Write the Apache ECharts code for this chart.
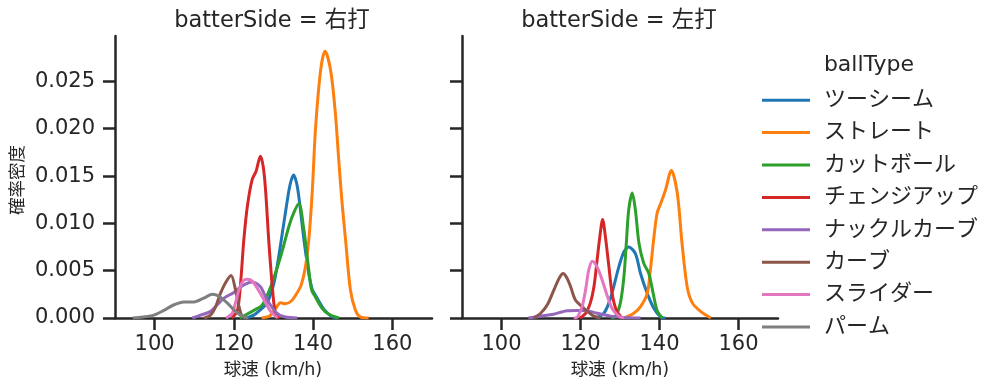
<!DOCTYPE html>
<html>
<head>
<meta charset="utf-8">
<script src="https://cdn.jsdelivr.net/npm/echarts@6/dist/echarts.min.js"></script>
<style>
html,body{margin:0;padding:0;background:#fff;}
#chart{width:1002px;height:391px;}
</style>
</head>
<body>
<div id="chart"></div>
<script>
// ---- Data ----
const ballTypes = ['ツーシーム','ストレート','カットボール','チェンジアップ','ナックルカーブ','カーブ','スライダー','パーム'];
const panelTitles = ['batterSide = 右打','batterSide = 左打'];
const xTicks = [100,120,140,160];
const yTicks = [0,0.005,0.010,0.015,0.020,0.025];

// 右打 panel
const R_twoSeam_x = [123,125,126.5,128.4,130,130.9,132.6,133.9,134.5,135.1,135.8,136.4,137.7,138.9,139.8,140.6,142.6,144.5,146];
const R_twoSeam_y = [0,0.0003,0.0008,0.0016,0.0035,0.0054,0.0100,0.0135,0.0146,0.0151,0.0143,0.0128,0.0082,0.0047,0.0030,0.0024,0.0010,0.0002,0];
const R_straight_x = [127,129,130.5,131.8,133,134.5,136,137,138.1,138.9,139.8,140.6,141.9,143,144.4,145.6,146.5,147.3,148.2,149.4,150.7,152,154];
const R_straight_y = [0,0.0002,0.0010,0.0016,0.0015,0.0018,0.0027,0.0035,0.0055,0.0082,0.0135,0.0200,0.0262,0.0282,0.0262,0.0217,0.0165,0.0122,0.0082,0.0030,0.0008,0.0001,0];
const R_cutter_x = [121.5,125,127.2,129.3,131.8,133.9,135.1,136.4,137.6,138.7,139.6,140.6,142.3,144,146.5];
const R_cutter_y = [0,0.0008,0.0014,0.0033,0.0065,0.0097,0.0111,0.0121,0.0095,0.0058,0.0030,0.0022,0.0010,0.0004,0];
const R_change_x = [119.5,120.9,121.7,122.5,123.4,124.6,125.6,126.7,127.4,128,128.8,129.7,130.5,131.5];
const R_change_y = [0,0.0008,0.0037,0.0082,0.0118,0.0146,0.0155,0.0171,0.0160,0.0135,0.0082,0.0033,0.0004,0];
const R_knuckle_x = [109.5,111.6,114.1,115.8,117.5,120,122.1,124.6,126.7,128.4,130.9,133,136];
const R_knuckle_y = [0,0.0003,0.0007,0.0014,0.0021,0.0027,0.0034,0.0038,0.0033,0.0019,0.0005,0.0001,0];
const R_curve_x = [112.5,114.1,115.4,116.6,118,119.3,120.4,121.3,122.1,123.5];
const R_curve_y = [0,0.0003,0.0012,0.0026,0.0038,0.0045,0.0030,0.0012,0.0002,0];
const R_slider_x = [118,119.6,120.4,121.3,122.3,123.4,124.3,125,126.7,128,129.3,131];
const R_slider_y = [0,0.0005,0.0016,0.0030,0.0039,0.0041,0.0040,0.0037,0.0026,0.0016,0.0007,0];
const R_palm_x = [94.5,97,99.8,102.3,104.9,107.4,109.9,112.4,114.6,116.2,118.3,120.4,122.1,123.5];
const R_palm_y = [0,0.0001,0.0003,0.0008,0.0014,0.0017,0.0017,0.0021,0.0025,0.0023,0.0016,0.0007,0.0002,0];

// 左打 panel
const L_twoSeam_x = [124,125.9,127.2,128.4,129.7,131,132.2,133.9,135.2,136.9,138.6,140.3,141.5];
const L_twoSeam_y = [0,0.0005,0.0016,0.0033,0.0054,0.0070,0.0075,0.0068,0.0047,0.0026,0.0010,0.0001,0];
const L_straight_x = [131,133.5,135.2,136.9,137.7,138.6,139.4,140.3,141.5,143,144.5,145.7,147,148.3,150.4,153];
const L_straight_y = [0,0.0005,0.0012,0.0026,0.0051,0.0086,0.0111,0.0121,0.0135,0.0156,0.0132,0.0079,0.0033,0.0016,0.0007,0];
const L_cutter_x = [127.8,128.9,130.1,131,131.6,132.2,133.1,133.9,134.8,136,137.3,138.4,139.4,140.7];
const L_cutter_y = [0,0.0002,0.0016,0.0044,0.0079,0.0114,0.0132,0.0114,0.0079,0.0058,0.0047,0.0026,0.0008,0];
const L_change_x = [119.8,121.3,122.5,123.4,124.2,124.9,125.6,126.3,127.2,128,129.1,130.5];
const L_change_y = [0,0.0005,0.0016,0.0033,0.0061,0.0086,0.0104,0.0086,0.0054,0.0026,0.0008,0];
const L_knuckle_x = [106.8,110,113.2,116.6,119.2,121,124.2,127.6,131,135.2];
const L_knuckle_y = [0,0.0002,0.0004,0.00077,0.0008,0.0008,0.0005,0.0002,0.00005,0];
const L_curve_x = [108,109.9,111.6,113.3,114.6,115.6,116.6,117.5,118.7,120.4,121.7,123.4,125];
const L_curve_y = [0,0.0005,0.0014,0.0030,0.0042,0.0047,0.0042,0.0033,0.0019,0.0012,0.0007,0.0002,0];
const L_slider_x = [118.3,119.2,120.4,121.3,122.1,123,124.2,125.5,126.8,128,129.7,131];
const L_slider_y = [0,0.0001,0.0012,0.0030,0.0051,0.0060,0.0054,0.0040,0.0023,0.0010,0.0002,0];

// ---- Build chart ----
const colors = ['#1f77b4','#ff7f0e','#2ca02c','#d62728','#9467bd','#8c564b','#e377c2','#7f7f7f'];
const FONT = '"DejaVu Sans", "Noto Sans CJK JP", sans-serif';
const TXT = '#262626';
const zip = (xs, ys) => xs.map((x, i) => [x, ys[i]]);

const panels = [
  [[R_twoSeam_x,R_twoSeam_y],[R_straight_x,R_straight_y],[R_cutter_x,R_cutter_y],[R_change_x,R_change_y],
   [R_knuckle_x,R_knuckle_y],[R_curve_x,R_curve_y],[R_slider_x,R_slider_y],[R_palm_x,R_palm_y]],
  [[L_twoSeam_x,L_twoSeam_y],[L_straight_x,L_straight_y],[L_cutter_x,L_cutter_y],[L_change_x,L_change_y],
   [L_knuckle_x,L_knuckle_y],[L_curve_x,L_curve_y],[L_slider_x,L_slider_y],null]
];

const grids = [
  {left:115, top:36, width:317, height:282},
  {left:462, top:36, width:316, height:282}
];

const axisLineStyle = {color: TXT, width: 2.5};
const xAxes = grids.map((g, i) => ({
  type:'value', gridIndex:i, min:90, max:170,
  splitLine:{show:false},
  axisLine:{show:true, onZero:false, lineStyle:axisLineStyle},
  axisTick:{show:true, length:12, lineStyle:{color:TXT, width:2.5}, customValues:xTicks},
  axisLabel:{customValues:xTicks, fontSize:21, color:TXT, fontFamily:FONT, margin:16}
}));
const yAxes = grids.map((g, i) => ({
  type:'value', gridIndex:i, min:0, max:0.0298,
  splitLine:{show:false},
  axisLine:{show:true, onZero:false, lineStyle:axisLineStyle},
  axisTick:{show:true, length:12, lineStyle:{color:TXT, width:2.5}, customValues:yTicks},
  axisLabel:{show:i===0, customValues:yTicks, fontSize:21, color:TXT, fontFamily:FONT, margin:20,
             formatter:v => v.toFixed(3)}
}));

const series = [];
panels.forEach((curves, p) => {
  curves.forEach((c, k) => {
    if (!c) return;
    series.push({
      type:'line', name:ballTypes[k], xAxisIndex:p, yAxisIndex:p,
      data: zip(c[0], c[1]),
      showSymbol:false, symbol:'none', smooth:0.3,
      lineStyle:{width:3, color:colors[k]}, itemStyle:{color:colors[k]},
      z: 2 + k, silent:true, animation:false
    });
  });
});

const chart = echarts.init(document.getElementById('chart'), null, {renderer:'canvas'});
chart.setOption({
  animation:false,
  color: colors,
  grid: grids,
  xAxis: xAxes,
  yAxis: yAxes,
  series: series,
  legend: {
    data: ballTypes, orient:'vertical', left:757, top:79, itemGap:0,
    icon:'rect', itemWidth:48, itemHeight:3,
    textStyle:{fontSize:22, color:TXT, fontFamily:FONT, lineHeight:32.4, padding:[0,0,0,9]},
    selectedMode:false
  },
  graphic: [
    {type:'text', x:272, y:21, style:{text:panelTitles[0], font:'22.5px '+FONT, fill:TXT, textAlign:'center', textVerticalAlign:'middle'}},
    {type:'text', x:619, y:21, style:{text:panelTitles[1], font:'22.5px '+FONT, fill:TXT, textAlign:'center', textVerticalAlign:'middle'}},
    {type:'text', x:869, y:65, style:{text:'ballType', font:'22px '+FONT, fill:TXT, textAlign:'center', textVerticalAlign:'middle'}},
    {type:'text', x:273, y:370, style:{text:'球速 (km/h)', font:'17.5px '+FONT, fill:TXT, textAlign:'center', textVerticalAlign:'middle'}},
    {type:'text', x:620, y:370, style:{text:'球速 (km/h)', font:'17.5px '+FONT, fill:TXT, textAlign:'center', textVerticalAlign:'middle'}},
    {type:'text', x:18, y:180, rotation:Math.PI/2, style:{text:'確率密度', font:'17.5px '+FONT, fill:TXT, textAlign:'center', textVerticalAlign:'middle'}}
  ]
});
</script>
</body>
</html>
